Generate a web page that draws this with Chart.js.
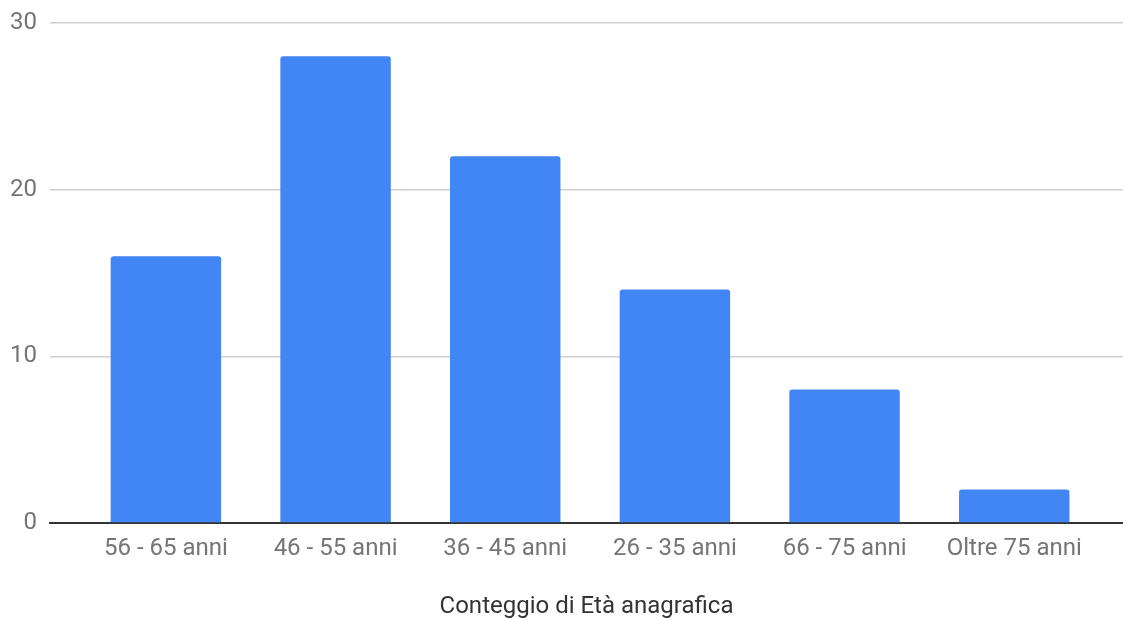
<!DOCTYPE html>
<html lang="it">
<head>
<meta charset="utf-8">
<title>Conteggio di Età anagrafica</title>
<script src="https://cdn.jsdelivr.net/npm/chart.js@4.4.0/dist/chart.umd.min.js"></script>
<style>
  html, body { margin: 0; padding: 0; background: #ffffff; }
  #wrap { width: 1123px; height: 619px; }
  canvas { display: block; }
</style>
</head>
<body>
<div id="wrap"><canvas id="chart" width="1123" height="619"></canvas></div>
<script>
// Age groups and how many people fall in each one
const categories = ['56 - 65 anni', '46 - 55 anni', '36 - 45 anni', '26 - 35 anni', '66 - 75 anni', 'Oltre 75 anni'];
const counts = [16, 28, 22, 14, 8, 2];
const yTickValues = [0, 10, 20, 30];
const axisTitle = 'Conteggio di Età anagrafica';

const FONT = 'Roboto, "Noto Sans", Arial, sans-serif';
const BAR_BLUE = '#4285f4';
const TICK_GREY = '#757575';

// Bars sit on a numeric x axis (one unit per age group) so the
// plot can start with a wider margin on the left than on the right.
const points = counts.map((v, i) => ({ x: i, y: v }));

new Chart(document.getElementById('chart'), {
  type: 'bar',
  data: {
    datasets: [{
      data: points,
      backgroundColor: BAR_BLUE,
      borderWidth: 0,
      borderRadius: { topLeft: 3, topRight: 3, bottomLeft: 0, bottomRight: 0 },
      borderSkipped: 'start',
      categoryPercentage: 1,
      barPercentage: 0.651
    }]
  },
  options: {
    responsive: false,
    devicePixelRatio: 1,
    animation: false,
    layout: { padding: { top: 23, right: 0, bottom: 0, left: 0 } },
    plugins: {
      legend: { display: false },
      tooltip: { enabled: false }
    },
    scales: {
      x: {
        type: 'linear',
        offset: false,
        min: -0.683,
        max: 5.641,
        grid: { display: false, drawTicks: false, offset: false },
        border: { display: true, color: '#333333', width: 2 },
        afterBuildTicks: (scale) => {
          scale.ticks = categories.map((_, i) => ({ value: i }));
        },
        ticks: {
          stepSize: 1,
          includeBounds: false,
          autoSkip: false,
          maxRotation: 0,
          padding: 11.5,
          color: TICK_GREY,
          font: { family: FONT, size: 24 },
          callback: (value) => categories[value] ?? ''
        },
        title: {
          display: true,
          text: axisTitle,
          color: '#333333',
          font: { family: FONT, size: 24 },
          padding: { top: 17.5, bottom: -2 }
        }
      },
      y: {
        min: 0,
        max: 30,
        afterBuildTicks: (scale) => {
          scale.ticks = yTickValues.map(v => ({ value: v }));
        },
        afterFit: (scale) => {
          scale.width = 50;
          scale.paddingTop = 0;
          scale.paddingBottom = 0;
        },
        grid: { color: '#d0d0d0', lineWidth: 1.5, drawTicks: false },
        border: { display: false },
        ticks: {
          padding: 13,
          color: TICK_GREY,
          font: { family: FONT, size: 24 }
        }
      }
    }
  }
});
</script>
</body>
</html>
